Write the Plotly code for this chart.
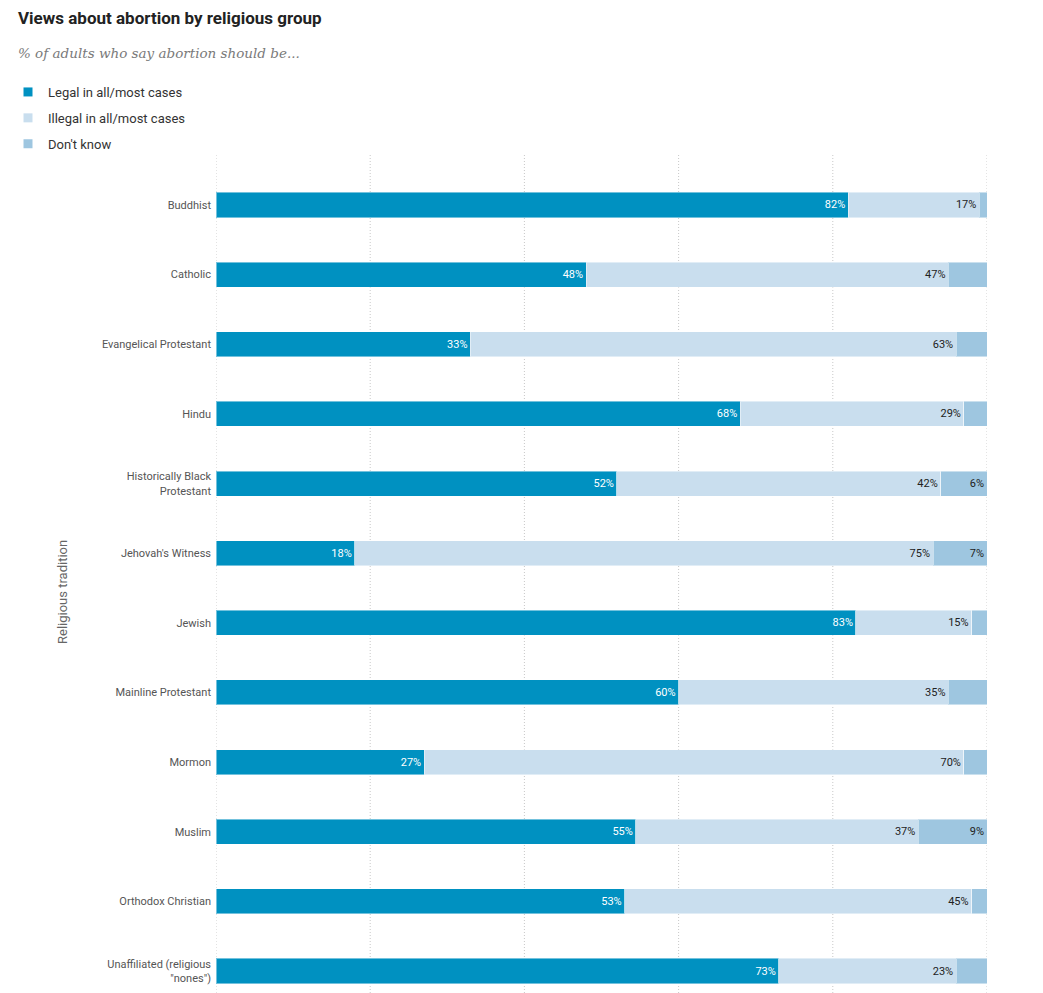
import plotly.graph_objects as go

categories = ["Buddhist", "Catholic", "Evangelical Protestant", "Hindu",
              "Historically Black<br>Protestant", "Jehovah's Witness", "Jewish",
              "Mainline Protestant", "Mormon", "Muslim", "Orthodox Christian",
              "Unaffiliated (religious<br>\"nones\")"]
legal = [82, 48, 33, 68, 52, 18, 83, 60, 27, 55, 53, 73]
illegal = [17, 47, 63, 29, 42, 75, 15, 35, 70, 37, 45, 23]
dont_know = [1, 5, 4, 3, 6, 7, 2, 5, 3, 9, 2, 4]
series_names = ["Legal in all/most cases", "Illegal in all/most cases", "Don't know"]
grid_ticks = [0, 20, 40, 60, 80, 100]
colors = ["#0091C1", "#C9DEEE", "#9EC6E0"]
text_colors = ["white", "#222222", "#222222"]

OFF = 8  # page body margin
W, H = 1043 - OFF, 993 - OFF
L, T = 216 - OFF, 153 - OFF
R, B = W - (987 - OFF), 0
pw, ph = W - L - R, H - T - B

def px(x):
    return (x - OFF - L) / pw

def py(y):
    return (H - B - (y - OFF)) / ph

fig = go.Figure()
for name, vals, col, tc in zip(series_names, [legal, illegal, dont_know], colors, text_colors):
    txt = [f"{v}%" if v >= 6 else "" for v in vals]
    fig.add_trace(go.Bar(
        y=categories, x=vals, orientation="h", name=name,
        marker=dict(color=col, line=dict(color="rgba(255,255,255,0.45)", width=1)),
        text=txt, textposition="inside", insidetextanchor="end",
        textfont=dict(color=tc, size=11, family="Roboto"),
        textangle=0, cliponaxis=False,
        showlegend=False, hoverinfo="x+y+name",
    ))
for i, (name, col) in enumerate(zip(series_names, colors)):
    fig.add_trace(go.Scatter(
        x=[None], y=[None], mode="markers", name=name,
        marker=dict(symbol="square", size=9, color=col),
        legendgroup=f"g{i}", showlegend=True,
    ))

shapes = [dict(type="line", xref="x", yref="paper", x0=g, x1=g, y0=0, y1=1,
               line=dict(color="#c8c8c8", width=1, dash="1px,2px"), layer="below")
          for g in grid_ticks]

fig.update_layout(
    width=W, height=H,
    margin=dict(l=L, r=R, t=T, b=B, autoexpand=False),
    barmode="stack", barnorm="percent", bargap=0.64,
    plot_bgcolor="white", paper_bgcolor="white",
    font=dict(family="Roboto", color="#444"),
    legend=dict(x=px(8), y=py(77), xanchor="left", yanchor="top",
                font=dict(size=13, color="#333", family="Roboto"),
                traceorder="grouped", tracegroupgap=6, itemwidth=30,
                bgcolor="rgba(0,0,0,0)"),
    xaxis=dict(range=[0, 100], showgrid=False, zeroline=False, showticklabels=False,
               showline=False, fixedrange=True),
    yaxis=dict(range=[11 + 22 / 69.64, -52 / 69.64], showgrid=False,
               tickfont=dict(size=11, color="#555", family="Roboto"),
               ticks="", ticklabelstandoff=4, showline=False, zeroline=False,
               fixedrange=True),
    shapes=shapes,
    annotations=[
        dict(text="<b>Views about abortion by religious group</b>", xref="paper", yref="paper",
             x=px(16), y=py(18), xanchor="left", yanchor="middle", showarrow=False,
             font=dict(size=17, color="#222", family="Roboto")),
        dict(text="<i>% of adults who say abortion should be...</i>", xref="paper", yref="paper",
             x=px(16), y=py(53), xanchor="left", yanchor="middle", showarrow=False,
             font=dict(size=13.5, color="#7a7a7a", family="DejaVu Serif")),
        dict(text="Religious tradition", xref="paper", yref="paper",
             x=px(62), y=py(592), xanchor="center", yanchor="middle", textangle=-90,
             showarrow=False, font=dict(size=13, color="#666", family="Roboto")),
    ],
)

fig.write_html("out.html")
